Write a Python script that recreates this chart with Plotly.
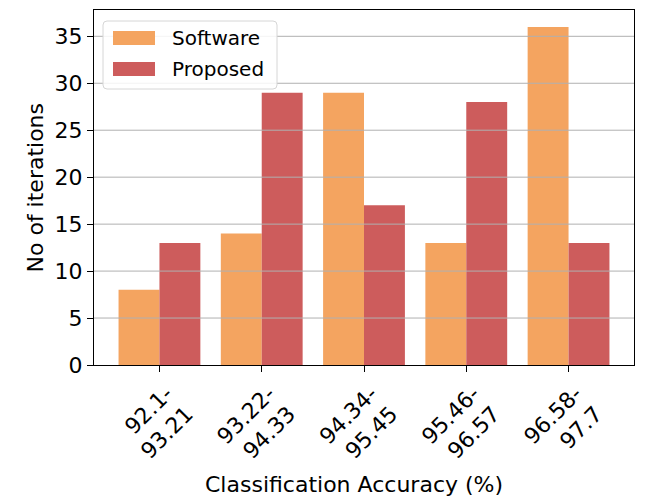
import plotly.graph_objects as go

categories = ["92.1-<br>93.21", "93.22-<br>94.33", "94.34-<br>95.45", "95.46-<br>96.57", "96.58-<br>97.7"]
software = [8, 14, 29, 13, 36]
proposed = [13, 29, 17, 28, 13]
series_names = ["Software", "Proposed"]
series_colors = ["#F4A460", "#CD5C5C"]
yticks = [0, 5, 10, 15, 20, 25, 30, 35]

xs = list(range(len(categories)))
font = "DejaVu Sans, sans-serif"

# plot area in pixels
L, R, T, B = 94, 634, 10, 365
W, H = 645, 499


def px(x):
    return (x - L) / (R - L)


def py(y):
    return (B - y) / (B - T)


fig = go.Figure()
for vals, off, name, col in zip([software, proposed], [-0.2, 0.2], series_names, series_colors):
    fig.add_trace(go.Bar(x=[x + off for x in xs], y=vals, width=0.4, name=name,
                         marker=dict(color=col, line=dict(width=0)), showlegend=False))

for t in yticks[1:]:
    fig.add_shape(type="line", xref="paper", x0=0, x1=1, yref="y", y0=t, y1=t,
                  line=dict(color="#b0b0b0", width=1), layer="above")

# legend drawn manually (matplotlib-style, rounded box)
bx0, bx1, by0, by1, r = 103, 277, 21, 89, 4
path = (f"M {px(bx0 + r)},{py(by0)} L {px(bx1 - r)},{py(by0)} "
        f"Q {px(bx1)},{py(by0)} {px(bx1)},{py(by0 + r)} L {px(bx1)},{py(by1 - r)} "
        f"Q {px(bx1)},{py(by1)} {px(bx1 - r)},{py(by1)} L {px(bx0 + r)},{py(by1)} "
        f"Q {px(bx0)},{py(by1)} {px(bx0)},{py(by1 - r)} L {px(bx0)},{py(by0 + r)} "
        f"Q {px(bx0)},{py(by0)} {px(bx0 + r)},{py(by0)} Z")
fig.add_shape(type="path", xref="paper", yref="paper", path=path,
              line=dict(color="#d6d6d6", width=1), fillcolor="rgba(255,255,255,0.85)", layer="above")
for i, (name, col) in enumerate(zip(series_names, series_colors)):
    yc = 38 + i * 31
    fig.add_shape(type="rect", xref="paper", yref="paper", x0=px(113), x1=px(155),
                  y0=py(yc + 7), y1=py(yc - 7), line=dict(width=0), fillcolor=col, layer="above")
    fig.add_annotation(xref="paper", yref="paper", x=px(170), y=py(yc), text=name, showarrow=False,
                       xanchor="left", yanchor="middle", font=dict(size=20, family=font, color="black"))

# axis titles
fig.add_annotation(xref="paper", yref="paper", x=px((L + R) / 2 - 10), y=py(484),
                   text="Classification Accuracy (%)", showarrow=False,
                   xanchor="center", yanchor="middle", font=dict(size=22, family=font, color="black"))
fig.add_annotation(xref="paper", yref="paper", x=px(35), y=py((T + B) / 2), textangle=-90,
                   text="No of iterations", showarrow=False,
                   xanchor="center", yanchor="middle", font=dict(size=22, family=font, color="black"))

fig.update_layout(
    width=W, height=H,
    margin=dict(l=L, r=W - R, t=T, b=H - B, pad=0),
    paper_bgcolor="white", plot_bgcolor="white",
    font=dict(family=font, size=22, color="black"),
    barmode="overlay",
    showlegend=False,
    xaxis=dict(range=[-0.64, 4.64], tickmode="array", tickvals=xs, ticktext=categories,
               tickangle=-45, showgrid=False, showline=True, mirror=True, automargin=False,
               linecolor="black", linewidth=1.2, ticks="outside", ticklen=6,
               tickcolor="black", zeroline=False, ticklabelshift=7,
               tickfont=dict(size=22)),
    yaxis=dict(range=[0, 37.8], tickmode="array", tickvals=yticks,
               showgrid=False, showline=True, mirror=True, automargin=False,
               linecolor="black", linewidth=1.2, ticks="outside", ticklen=6,
               tickcolor="black", zeroline=False,
               tickfont=dict(size=22)),
)

fig.write_html("out.html", config={"displayModeBar": False},
               post_script="document.body.style.margin='0';document.body.style.overflow='hidden';")
